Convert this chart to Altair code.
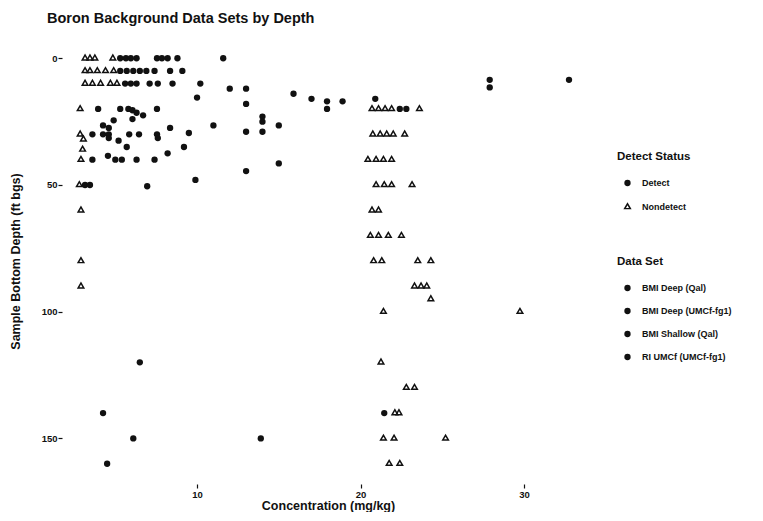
import altair as alt
import pandas as pd

# ---- data (concentration mg/kg, bottom depth ft bgs) ----
shallow_det_conc = [5.3, 5.65, 5.95, 6.3, 7.55, 7.85, 8.2, 8.8,
                    5.3, 5.7, 6.1, 6.5, 6.9, 7.4, 8.35, 9.1,
                    5.6, 5.95, 6.3, 7.1, 7.6, 8.5,
                    3.95, 5.3, 5.8, 6.05, 6.3, 6.7, 7.55, 6.05, 4.9, 4.25, 8.35, 4.6,
                    3.6, 4.25, 4.6, 5.85, 6.45, 7.55, 5.2, 4.6, 7.6, 5.7, 8.2,
                    3.6, 4.55, 5.0, 5.4, 6.3, 7.4, 3.15, 3.45, 6.95]
shallow_det_depth = [0, 0, 0, 0, 0, 0, 0, 0,
                     5, 5, 5, 5, 5, 5, 5, 5,
                     10, 10, 10, 10, 10, 10,
                     20, 20, 20, 20.5, 21.5, 22.5, 20, 24, 24.5, 26.5, 27.5, 27.5,
                     30, 30, 30, 30, 30, 30, 32.5, 31.5, 31.5, 35, 37.5,
                     40, 38.5, 40, 40, 40, 40, 50, 50, 50.5]

deepqal_det_conc = [11.6, 10.2, 12.0, 13.0, 10.0, 13.0, 15.9, 17.0, 17.95, 17.95, 18.9,
                    20.9, 14.0, 14.0, 11.0, 15.0, 9.5, 13.0, 14.0, 9.2, 15.0, 13.0,
                    9.9, 22.4, 22.8]
deepqal_det_depth = [0, 10, 12, 12, 15.5, 18, 14, 16, 17, 20, 17,
                     16, 23, 25, 26.5, 26.5, 29.5, 29, 29, 35, 41.5, 44.5,
                     48, 20, 20]

ri_det_conc = [27.9, 27.9, 32.75]
ri_det_depth = [8.5, 11.5, 8.5]

deepumc_det_conc = [6.5, 4.25, 21.45, 6.1, 13.9, 4.5]
deepumc_det_depth = [120, 140, 140, 150, 150, 160]

shallow_nd_conc = [3.15, 3.45, 3.75, 4.85, 3.15, 3.45, 3.9, 4.4, 4.9,
                   3.15, 3.6, 4.1, 4.7, 5.1,
                   2.85, 2.85, 3.05, 3.0, 2.9, 2.8, 2.9, 2.9, 2.9]
shallow_nd_depth = [0, 0, 0, 0, 5, 5, 5, 5, 5,
                    10, 10, 10, 10, 10,
                    20, 30, 32, 36, 40, 50, 60, 80, 90]

deepqal_nd_conc = [20.7, 21.1, 21.5, 21.9, 23.6,
                   20.75, 21.2, 21.6, 22.0, 22.7,
                   20.45, 20.95, 21.4, 21.9,
                   20.95, 21.45, 21.9, 23.15,
                   20.7, 21.1,
                   20.6, 21.1, 21.7, 22.5,
                   20.8, 21.3, 23.5, 24.3,
                   23.3, 23.7, 24.05,
                   24.3, 21.4, 29.75]
deepqal_nd_depth = [20, 20, 20, 20, 20,
                    30, 30, 30, 30, 30,
                    40, 40, 40, 40,
                    50, 50, 50, 50,
                    60, 60,
                    70, 70, 70, 70,
                    80, 80, 80, 80,
                    90, 90, 90,
                    95, 100, 100]

deepumc_nd_conc = [21.25, 22.8, 23.3, 22.1, 22.35, 21.4, 22.05, 25.2, 21.75, 22.4]
deepumc_nd_depth = [120, 130, 130, 140, 140, 150, 150, 150, 160, 160]

data_sets = ["BMI Deep (Qal)", "BMI Deep (UMCf-fg1)", "BMI Shallow (Qal)", "RI UMCf (UMCf-fg1)"]
statuses = ["Detect", "Nondetect"]

groups = [
    (shallow_det_conc, shallow_det_depth, "Detect", "BMI Shallow (Qal)"),
    (deepqal_det_conc, deepqal_det_depth, "Detect", "BMI Deep (Qal)"),
    (ri_det_conc, ri_det_depth, "Detect", "RI UMCf (UMCf-fg1)"),
    (deepumc_det_conc, deepumc_det_depth, "Detect", "BMI Deep (UMCf-fg1)"),
    (shallow_nd_conc, shallow_nd_depth, "Nondetect", "BMI Shallow (Qal)"),
    (deepqal_nd_conc, deepqal_nd_depth, "Nondetect", "BMI Deep (Qal)"),
    (deepumc_nd_conc, deepumc_nd_depth, "Nondetect", "BMI Deep (UMCf-fg1)"),
]
rows = []
for cs, ds, st, dset in groups:
    for c, d in zip(cs, ds):
        rows.append({"conc": c, "depth": d, "status": st, "dataset": dset})
df = pd.DataFrame(rows)

# hollow triangle (outer + reversed inner contour)
TRI = "M0,-1.5L1.3,0.75L-1.3,0.75Z M0,-0.55L-0.48,0.28L0.48,0.28Z"
INK = "#111111"
FONT = "Liberation Sans"

chart = alt.Chart(df).mark_point(
    filled=True, opacity=1, size=40, color=INK, strokeWidth=0
).encode(
    x=alt.X("conc:Q",
            scale=alt.Scale(domain=[1.74, 34.34], nice=False, zero=False),
            axis=alt.Axis(values=[10, 20, 30], title="Concentration (mg/kg)",
                          titleX=266, titleY=21, titleBaseline="middle")),
    y=alt.Y("depth:Q",
            scale=alt.Scale(domain=[-8, 168], reverse=True, nice=False, zero=False),
            axis=alt.Axis(values=[0, 50, 100, 150], title="Sample Bottom Depth (ft bgs)",
                          titleX=-47, titleY=223, titleAngle=-90,
                          titleAlign="center", titleBaseline="middle")),
    shape=alt.Shape("status:N",
                    scale=alt.Scale(domain=statuses, range=["circle", TRI]),
                    legend=alt.Legend(title="Detect Status", orient="none",
                                      legendX=555, legendY=113,
                                      symbolFillColor=INK, symbolStrokeWidth=0)),
    color=alt.Color("dataset:N",
                    scale=alt.Scale(domain=data_sets, range=[INK] * 4),
                    legend=alt.Legend(title="Data Set", orient="none",
                                      legendX=555, legendY=218)),
).properties(
    width=533,
    height=446,
    autosize="none",
    padding={"left": 54, "top": 30, "right": 160, "bottom": 28},
    title=alt.Title("Boron Background Data Sets by Depth", anchor="start",
                    frame="group", dx=-15, offset=12, fontSize=14.5,
                    font=FONT, fontWeight="bold", color=INK),
).configure_view(
    stroke=None
).configure_axis(
    domain=False, grid=False, tickColor=INK, tickSize=4, tickWidth=1.2,
    labelFont=FONT, labelFontSize=9.5, labelFontWeight="bold", labelColor=INK,
    labelPadding=1,
    titleFont=FONT, titleFontSize=12.5, titleFontWeight="bold", titleColor=INK,
).configure_legend(
    titleFont=FONT, titleFontSize=11.5, titleFontWeight="bold", titleColor=INK,
    labelFont=FONT, labelFontSize=9, labelFontWeight="bold", labelColor=INK,
    symbolSize=40, symbolOffset=6, labelOffset=10, rowPadding=13,
    titlePadding=16, padding=0,
)

chart.save("out.html", embed_options={"renderer": "svg", "actions": False})
